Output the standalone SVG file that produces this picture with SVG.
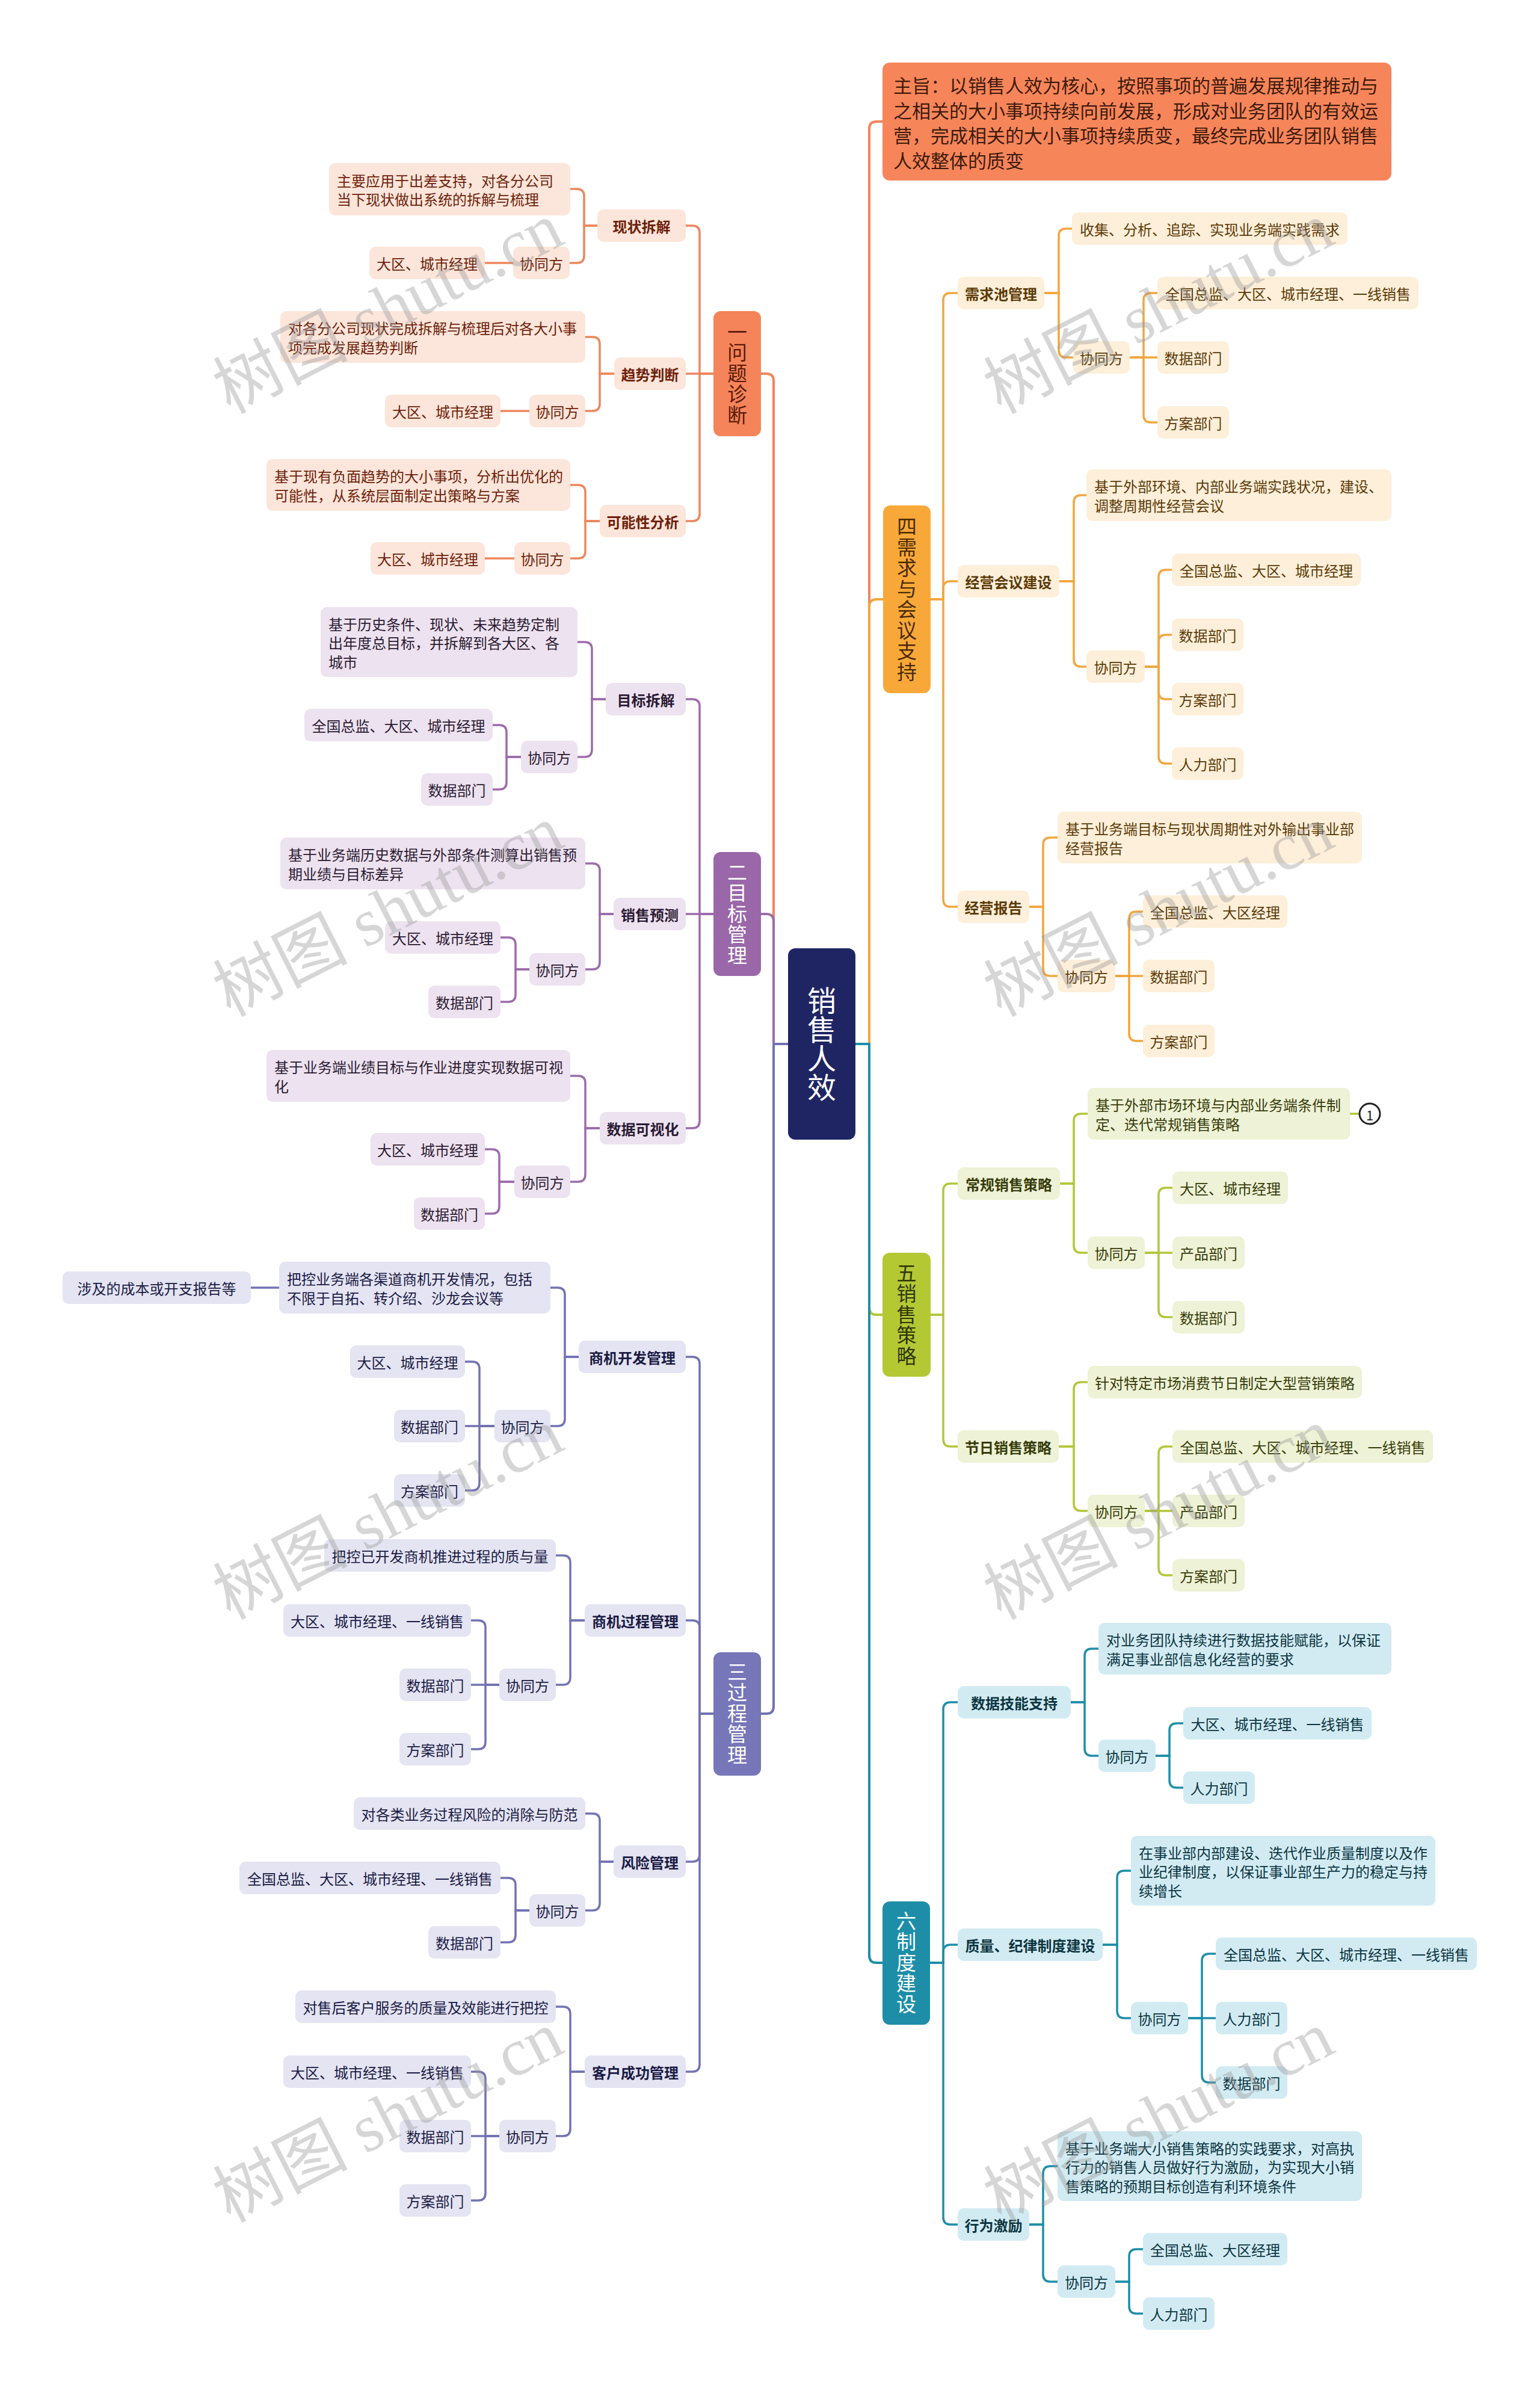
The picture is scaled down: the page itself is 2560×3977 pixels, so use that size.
<svg xmlns="http://www.w3.org/2000/svg" width="2560" height="3977" viewBox="0 0 2560 3977">
<style>
text{font-family:"Noto Sans CJK SC","Noto Sans",sans-serif;}
.s{font-size:24px;dominant-baseline:central}
.c{text-anchor:middle}
.b{font-size:24px;font-weight:bold;dominant-baseline:central;text-anchor:middle}
.m{font-size:33px;text-anchor:middle;writing-mode:vertical-rl;letter-spacing:1.5px}
.L1{fill:none;stroke-width:4}
.L{fill:none;stroke-width:3.5}
.e1{stroke:#EE865C}.e2{stroke:#9C6BAB}.e3{stroke:#7272B3}.e4{stroke:#F2A63D}.e5{stroke:#B3C63A}.e6{stroke:#1E8EA8}.e0{stroke:#F2845A}
.k1{fill:#FCE5DA}.k2{fill:#EDE2EF}.k3{fill:#E4E4F2}.k4{fill:#FDEFD9}.k5{fill:#EEF2D6}.k6{fill:#D2EBF3}
.t1{fill:#6E1F0B}.t2{fill:#2B1B33}.t3{fill:#1B1B45}.t4{fill:#5C3A08}.t5{fill:#363C0A}.t6{fill:#0C3540}
.wm{font-family:"Liberation Serif","Noto Sans CJK SC",serif;font-size:112px;fill:#9a9a9a;opacity:0.4;text-anchor:middle;dominant-baseline:central}
</style>
<rect x="0" y="0" width="2560" height="3977" fill="#ffffff"/>
<g id="connectors">
<path class="L1 e1" d="M1310 1735 H1286 V633 Q1286 621 1274 621 H1265"/>
<path class="L1 e2" d="M1310 1735 H1286 V1531 Q1286 1519 1274 1519 H1265"/>
<path class="L1 e3" d="M1310 1735 H1286 V2836 Q1286 2848 1274 2848 H1265"/>
<path class="L1 e0" d="M1422 1735 H1445 V214 Q1445 202 1457 202 H1467"/>
<path class="L1 e4" d="M1422 1735 H1445 V1008 Q1445 996 1457 996 H1468"/>
<path class="L1 e5" d="M1422 1735 H1445 V2173 Q1445 2185 1457 2185 H1467"/>
<path class="L1 e6" d="M1422 1735 H1445 V3250 Q1445 3262 1457 3262 H1467"/>
<g class="L e1">
<path d="M1186 621 H1163 V387 Q1163 375 1151 375 H1140"/>
<path d="M1186 621 H1140"/>
<path d="M1186 621 H1163 V854 Q1163 866 1151 866 H1140"/>
<path d="M993 375 H971 V326 Q971 314 959 314 H948"/>
<path d="M993 375 H971 V425 Q971 437 959 437 H947"/>
<path d="M853 437 H806"/>
<path d="M1021 621 H997 V572 Q997 560 985 560 H973"/>
<path d="M1021 621 H997 V671 Q997 683 985 683 H973"/>
<path d="M880 683 H832"/>
<path d="M997 866 H973 V818 Q973 806 961 806 H948"/>
<path d="M997 866 H973 V916 Q973 928 961 928 H948"/>
<path d="M855 928 H806"/>
</g>
<g class="L e2">
<path d="M1186 1519 H1163 V1174 Q1163 1162 1151 1162 H1140"/>
<path d="M1186 1519 H1140"/>
<path d="M1186 1519 H1163 V1863 Q1163 1875 1151 1875 H1140"/>
<path d="M1007 1162 H984 V1079 Q984 1067 972 1067 H960"/>
<path d="M1007 1162 H984 V1246 Q984 1258 972 1258 H960"/>
<path d="M866 1258 H842 V1217 Q842 1205 830 1205 H819"/>
<path d="M866 1258 H842 V1300 Q842 1312 830 1312 H819"/>
<path d="M1020 1519 H997 V1447 Q997 1435 985 1435 H973"/>
<path d="M1020 1519 H997 V1599 Q997 1611 985 1611 H973"/>
<path d="M880 1611 H857 V1570 Q857 1558 845 1558 H832"/>
<path d="M880 1611 H857 V1653 Q857 1665 845 1665 H832"/>
<path d="M997 1875 H973 V1800 Q973 1788 961 1788 H948"/>
<path d="M997 1875 H973 V1952 Q973 1964 961 1964 H948"/>
<path d="M855 1964 H830 V1922 Q830 1910 818 1910 H806"/>
<path d="M855 1964 H830 V2005 Q830 2017 818 2017 H806"/>
</g>
<g class="L e3">
<path d="M1186 2848 H1163 V2267 Q1163 2255 1151 2255 H1140"/>
<path d="M1186 2848 H1163 V2705 Q1163 2693 1151 2693 H1140"/>
<path d="M1186 2848 H1163 V3082 Q1163 3094 1151 3094 H1140"/>
<path d="M1186 2848 H1163 V3431 Q1163 3443 1151 3443 H1140"/>
<path d="M962 2255 H939 V2152 Q939 2140 927 2140 H915"/>
<path d="M962 2255 H939 V2358 Q939 2370 927 2370 H915"/>
<path d="M464 2140 H417"/>
<path d="M822 2370 H797 V2275 Q797 2263 785 2263 H773"/>
<path d="M822 2370 H773"/>
<path d="M822 2370 H797 V2465 Q797 2477 785 2477 H773"/>
<path d="M972 2693 H948 V2597 Q948 2585 936 2585 H924"/>
<path d="M972 2693 H948 V2788 Q948 2800 936 2800 H924"/>
<path d="M830 2800 H807 V2705 Q807 2693 795 2693 H783"/>
<path d="M830 2800 H783"/>
<path d="M830 2800 H807 V2895 Q807 2907 795 2907 H783"/>
<path d="M1020 3094 H997 V3026 Q997 3014 985 3014 H973"/>
<path d="M1020 3094 H997 V3163 Q997 3175 985 3175 H973"/>
<path d="M880 3175 H857 V3133 Q857 3121 845 3121 H832"/>
<path d="M880 3175 H857 V3216 Q857 3228 845 3228 H832"/>
<path d="M972 3443 H948 V3347 Q948 3335 936 3335 H924"/>
<path d="M972 3443 H948 V3538 Q948 3550 936 3550 H924"/>
<path d="M830 3550 H807 V3455 Q807 3443 795 3443 H783"/>
<path d="M830 3550 H783"/>
<path d="M830 3550 H807 V3645 Q807 3657 795 3657 H783"/>
</g>
<g class="L e4">
<path d="M1547 996 H1568 V499 Q1568 487 1580 487 H1592"/>
<path d="M1547 996 H1568 V978 Q1568 966 1580 966 H1592"/>
<path d="M1547 996 H1568 V1495 Q1568 1507 1580 1507 H1592"/>
<path d="M1736 487 H1760 V392 Q1760 380 1772 380 H1782"/>
<path d="M1736 487 H1760 V582 Q1760 594 1772 594 H1784"/>
<path d="M1878 594 H1901 V499 Q1901 487 1913 487 H1924"/>
<path d="M1878 594 H1924"/>
<path d="M1878 594 H1901 V690 Q1901 702 1913 702 H1924"/>
<path d="M1761 966 H1785 V835 Q1785 823 1797 823 H1806"/>
<path d="M1761 966 H1785 V1096 Q1785 1108 1797 1108 H1806"/>
<path d="M1903 1108 H1926 V959 Q1926 947 1938 947 H1948"/>
<path d="M1903 1108 H1926 V1067 Q1926 1055 1938 1055 H1948"/>
<path d="M1903 1108 H1926 V1150 Q1926 1162 1938 1162 H1948"/>
<path d="M1903 1108 H1926 V1257 Q1926 1269 1938 1269 H1948"/>
<path d="M1711 1507 H1734 V1404 Q1734 1392 1746 1392 H1758"/>
<path d="M1711 1507 H1734 V1610 Q1734 1622 1746 1622 H1758"/>
<path d="M1854 1622 H1877 V1527 Q1877 1515 1889 1515 H1900"/>
<path d="M1854 1622 H1900"/>
<path d="M1854 1622 H1877 V1718 Q1877 1730 1889 1730 H1900"/>
</g>
<g class="L e5">
<path d="M1547 2185 H1568 V1979 Q1568 1967 1580 1967 H1592"/>
<path d="M1547 2185 H1568 V2392 Q1568 2404 1580 2404 H1592"/>
<path d="M1762 1967 H1785 V1863 Q1785 1851 1797 1851 H1808"/>
<path d="M1762 1967 H1785 V2070 Q1785 2082 1797 2082 H1808"/>
<path d="M1903 2082 H1926 V1986 Q1926 1974 1938 1974 H1949"/>
<path d="M1903 2082 H1949"/>
<path d="M1903 2082 H1926 V2177 Q1926 2189 1938 2189 H1949"/>
<path d="M1760 2404 H1785 V2309 Q1785 2297 1797 2297 H1808"/>
<path d="M1760 2404 H1785 V2499 Q1785 2511 1797 2511 H1808"/>
<path d="M1903 2511 H1926 V2416 Q1926 2404 1938 2404 H1949"/>
<path d="M1903 2511 H1949"/>
<path d="M1903 2511 H1926 V2606 Q1926 2618 1938 2618 H1949"/>
<path d="M2244 1851 H2260"/>
</g>
<g class="L e6">
<path d="M1546 3262 H1568 V2841 Q1568 2829 1580 2829 H1592"/>
<path d="M1546 3262 H1568 V3244 Q1568 3232 1580 3232 H1592"/>
<path d="M1546 3262 H1568 V3685 Q1568 3697 1580 3697 H1592"/>
<path d="M1780 2829 H1803 V2752 Q1803 2740 1815 2740 H1826"/>
<path d="M1780 2829 H1803 V2906 Q1803 2918 1815 2918 H1826"/>
<path d="M1921 2918 H1944 V2876 Q1944 2864 1956 2864 H1967"/>
<path d="M1921 2918 H1944 V2959 Q1944 2971 1956 2971 H1967"/>
<path d="M1833 3232 H1857 V3121 Q1857 3109 1869 3109 H1880"/>
<path d="M1833 3232 H1857 V3342 Q1857 3354 1869 3354 H1880"/>
<path d="M1975 3354 H1998 V3259 Q1998 3247 2010 3247 H2021"/>
<path d="M1975 3354 H2021"/>
<path d="M1975 3354 H1998 V3449 Q1998 3461 2010 3461 H2021"/>
<path d="M1711 3697 H1734 V3612 Q1734 3600 1746 3600 H1758"/>
<path d="M1711 3697 H1734 V3780 Q1734 3792 1746 3792 H1758"/>
<path d="M1854 3792 H1877 V3750 Q1877 3738 1889 3738 H1900"/>
<path d="M1854 3792 H1877 V3833 Q1877 3845 1889 3845 H1900"/>
</g>
</g>

<g id="center">
<rect x="1310" y="1576" width="112" height="318" rx="12" fill="#1F2563"/>
<text x="1366" y="1735" style="font-size:48px;text-anchor:middle;writing-mode:vertical-rl" fill="#ffffff">销售人效</text>
</g>

<g id="summary">
<rect x="1467" y="104" width="846" height="196" rx="12" fill="#F7855A"/>
<text style="font-size:31px;dominant-baseline:central" fill="#3D1A0C"><tspan x="1485" y="140">主旨：以销售人效为核心，按照事项的普遍发展规律推动与</tspan><tspan x="1485" y="182">之相关的大小事项持续向前发展，形成对业务团队的有效运</tspan><tspan x="1485" y="223">营，完成相关的大小事项持续质变，最终完成业务团队销售</tspan><tspan x="1485" y="265">人效整体的质变</tspan></text>
</g>

<!-- Branch 1 -->
<g id="b1">
<rect x="1186" y="517" width="79" height="208" rx="12" fill="#F5845A"/>
<text class="m" x="1225.5" y="621" fill="#5A1A08">一问题诊断</text>
</g>
<g id="b1-1"><rect class="k1" x="993" y="348" width="147" height="54" rx="10"/><text class="b t1" x="1066.5" y="375">现状拆解</text></g>
<g id="b1-1-n"><rect class="k1" x="547" y="271" width="401" height="87" rx="10"/><text class="s t1"><tspan x="560" y="299">主要应用于出差支持，对各分公司</tspan><tspan x="560" y="330">当下现状做出系统的拆解与梳理</tspan></text></g>
<g id="b1-1-x"><rect class="k1" x="853" y="410" width="94" height="54" rx="10"/><text class="s c t1" x="900" y="437">协同方</text></g>
<g id="b1-1-x1"><rect class="k1" x="614" y="410" width="192" height="54" rx="10"/><text class="s c t1" x="710" y="437">大区、城市经理</text></g>
<g id="b1-2"><rect class="k1" x="1021" y="594" width="119" height="54" rx="10"/><text class="b t1" x="1080.5" y="621">趋势判断</text></g>
<g id="b1-2-n"><rect class="k1" x="466" y="517" width="507" height="86" rx="10"/><text class="s t1"><tspan x="479" y="544">对各分公司现状完成拆解与梳理后对各大小事</tspan><tspan x="479" y="576">项完成发展趋势判断</tspan></text></g>
<g id="b1-2-x"><rect class="k1" x="880" y="656" width="93" height="54" rx="10"/><text class="s c t1" x="926.5" y="683">协同方</text></g>
<g id="b1-2-x1"><rect class="k1" x="640" y="656" width="192" height="54" rx="10"/><text class="s c t1" x="736" y="683">大区、城市经理</text></g>
<g id="b1-3"><rect class="k1" x="997" y="839" width="143" height="54" rx="10"/><text class="b t1" x="1068.5" y="866">可能性分析</text></g>
<g id="b1-3-n"><rect class="k1" x="443" y="763" width="505" height="86" rx="10"/><text class="s t1"><tspan x="456" y="790">基于现有负面趋势的大小事项，分析出优化的</tspan><tspan x="456" y="822">可能性，从系统层面制定出策略与方案</tspan></text></g>
<g id="b1-3-x"><rect class="k1" x="855" y="901" width="93" height="54" rx="10"/><text class="s c t1" x="901.5" y="928">协同方</text></g>
<g id="b1-3-x1"><rect class="k1" x="616" y="901" width="190" height="54" rx="10"/><text class="s c t1" x="711" y="928">大区、城市经理</text></g>

<!-- Branch 2 -->
<g id="b2">
<rect x="1186" y="1416" width="79" height="206" rx="12" fill="#9A67A9"/>
<text class="m" x="1225.5" y="1519" fill="#ffffff">二目标管理</text>
</g>
<g id="b2-1"><rect class="k2" x="1007" y="1135" width="133" height="54" rx="10"/><text class="b t2" x="1073.5" y="1162">目标拆解</text></g>
<g id="b2-1-n"><rect class="k2" x="533" y="1009" width="427" height="116" rx="10"/><text class="s t2"><tspan x="546" y="1035.5">基于历史条件、现状、未来趋势定制</tspan><tspan x="546" y="1067">出年度总目标，并拆解到各大区、各</tspan><tspan x="546" y="1098.5">城市</tspan></text></g>
<g id="b2-1-x"><rect class="k2" x="866" y="1231" width="94" height="54" rx="10"/><text class="s c t2" x="913" y="1258">协同方</text></g>
<g id="b2-1-x1"><rect class="k2" x="506" y="1178" width="313" height="54" rx="10"/><text class="s c t2" x="662.5" y="1205">全国总监、大区、城市经理</text></g>
<g id="b2-1-x2"><rect class="k2" x="700" y="1285" width="119" height="54" rx="10"/><text class="s c t2" x="759.5" y="1312">数据部门</text></g>
<g id="b2-2"><rect class="k2" x="1020" y="1492" width="120" height="54" rx="10"/><text class="b t2" x="1080" y="1519">销售预测</text></g>
<g id="b2-2-n"><rect class="k2" x="466" y="1392" width="507" height="86" rx="10"/><text class="s t2"><tspan x="479" y="1419">基于业务端历史数据与外部条件测算出销售预</tspan><tspan x="479" y="1451">期业绩与目标差异</tspan></text></g>
<g id="b2-2-x"><rect class="k2" x="880" y="1584" width="93" height="54" rx="10"/><text class="s c t2" x="926.5" y="1611">协同方</text></g>
<g id="b2-2-x1"><rect class="k2" x="640" y="1531" width="192" height="54" rx="10"/><text class="s c t2" x="736" y="1558">大区、城市经理</text></g>
<g id="b2-2-x2"><rect class="k2" x="712" y="1638" width="120" height="54" rx="10"/><text class="s c t2" x="772" y="1665">数据部门</text></g>
<g id="b2-3"><rect class="k2" x="997" y="1848" width="143" height="54" rx="10"/><text class="b t2" x="1068.5" y="1875">数据可视化</text></g>
<g id="b2-3-n"><rect class="k2" x="443" y="1745" width="505" height="86" rx="10"/><text class="s t2"><tspan x="456" y="1772">基于业务端业绩目标与作业进度实现数据可视</tspan><tspan x="456" y="1804">化</tspan></text></g>
<g id="b2-3-x"><rect class="k2" x="855" y="1937" width="93" height="54" rx="10"/><text class="s c t2" x="901.5" y="1964">协同方</text></g>
<g id="b2-3-x1"><rect class="k2" x="616" y="1883" width="190" height="54" rx="10"/><text class="s c t2" x="711" y="1910">大区、城市经理</text></g>
<g id="b2-3-x2"><rect class="k2" x="688" y="1990" width="118" height="54" rx="10"/><text class="s c t2" x="747" y="2017">数据部门</text></g>

<!-- Branch 3 -->
<g id="b3">
<rect x="1186" y="2746" width="79" height="205" rx="12" fill="#7676B8"/>
<text class="m" x="1225.5" y="2848" fill="#ffffff">三过程管理</text>
</g>
<g id="b3-1"><rect class="k3" x="962" y="2228" width="178" height="54" rx="10"/><text class="b t3" x="1051" y="2255">商机开发管理</text></g>
<g id="b3-1-n"><rect class="k3" x="464" y="2097" width="451" height="86" rx="10"/><text class="s t3"><tspan x="477" y="2124">把控业务端各渠道商机开发情况，包括</tspan><tspan x="477" y="2156">不限于自拓、转介绍、沙龙会议等</tspan></text></g>
<g id="b3-1-n1"><rect class="k3" x="104" y="2113" width="313" height="54" rx="10"/><text class="s c t3" x="260.5" y="2140">涉及的成本或开支报告等</text></g>
<g id="b3-1-x"><rect class="k3" x="822" y="2343" width="93" height="54" rx="10"/><text class="s c t3" x="868.5" y="2370">协同方</text></g>
<g id="b3-1-x1"><rect class="k3" x="582" y="2236" width="191" height="54" rx="10"/><text class="s c t3" x="677.5" y="2263">大区、城市经理</text></g>
<g id="b3-1-x2"><rect class="k3" x="655" y="2343" width="118" height="54" rx="10"/><text class="s c t3" x="714" y="2370">数据部门</text></g>
<g id="b3-1-x3"><rect class="k3" x="655" y="2450" width="118" height="54" rx="10"/><text class="s c t3" x="714" y="2477">方案部门</text></g>
<g id="b3-2"><rect class="k3" x="972" y="2666" width="168" height="54" rx="10"/><text class="b t3" x="1056" y="2693">商机过程管理</text></g>
<g id="b3-2-n"><rect class="k3" x="539" y="2558" width="385" height="54" rx="10"/><text class="s c t3" x="731.5" y="2585">把控已开发商机推进过程的质与量</text></g>
<g id="b3-2-x"><rect class="k3" x="830" y="2773" width="94" height="54" rx="10"/><text class="s c t3" x="877" y="2800">协同方</text></g>
<g id="b3-2-x1"><rect class="k3" x="471" y="2666" width="312" height="54" rx="10"/><text class="s c t3" x="627" y="2693">大区、城市经理、一线销售</text></g>
<g id="b3-2-x2"><rect class="k3" x="664" y="2773" width="119" height="54" rx="10"/><text class="s c t3" x="723.5" y="2800">数据部门</text></g>
<g id="b3-2-x3"><rect class="k3" x="664" y="2880" width="119" height="54" rx="10"/><text class="s c t3" x="723.5" y="2907">方案部门</text></g>
<g id="b3-3"><rect class="k3" x="1020" y="3067" width="120" height="54" rx="10"/><text class="b t3" x="1080" y="3094">风险管理</text></g>
<g id="b3-3-n"><rect class="k3" x="588" y="2987" width="385" height="54" rx="10"/><text class="s c t3" x="780.5" y="3014">对各类业务过程风险的消除与防范</text></g>
<g id="b3-3-x"><rect class="k3" x="880" y="3148" width="93" height="54" rx="10"/><text class="s c t3" x="926.5" y="3175">协同方</text></g>
<g id="b3-3-x1"><rect class="k3" x="398" y="3094" width="434" height="54" rx="10"/><text class="s c t3" x="615" y="3121">全国总监、大区、城市经理、一线销售</text></g>
<g id="b3-3-x2"><rect class="k3" x="712" y="3201" width="120" height="54" rx="10"/><text class="s c t3" x="772" y="3228">数据部门</text></g>
<g id="b3-4"><rect class="k3" x="972" y="3416" width="168" height="54" rx="10"/><text class="b t3" x="1056" y="3443">客户成功管理</text></g>
<g id="b3-4-n"><rect class="k3" x="491" y="3308" width="433" height="54" rx="10"/><text class="s c t3" x="707.5" y="3335">对售后客户服务的质量及效能进行把控</text></g>
<g id="b3-4-x"><rect class="k3" x="830" y="3523" width="94" height="54" rx="10"/><text class="s c t3" x="877" y="3550">协同方</text></g>
<g id="b3-4-x1"><rect class="k3" x="471" y="3416" width="312" height="54" rx="10"/><text class="s c t3" x="627" y="3443">大区、城市经理、一线销售</text></g>
<g id="b3-4-x2"><rect class="k3" x="664" y="3523" width="119" height="54" rx="10"/><text class="s c t3" x="723.5" y="3550">数据部门</text></g>
<g id="b3-4-x3"><rect class="k3" x="664" y="3630" width="119" height="54" rx="10"/><text class="s c t3" x="723.5" y="3657">方案部门</text></g>

<!-- Branch 4 -->
<g id="b4">
<rect x="1468" y="840" width="79" height="312" rx="12" fill="#F8A838"/>
<text class="m" x="1507.5" y="996" fill="#4A2A05">四需求与会议支持</text>
</g>
<g id="b4-1"><rect class="k4" x="1592" y="460" width="144" height="54" rx="10"/><text class="b t4" x="1664" y="487">需求池管理</text></g>
<g id="b4-1-n"><rect class="k4" x="1782" y="353" width="458" height="54" rx="10"/><text class="s c t4" x="2011" y="380">收集、分析、追踪、实现业务端实践需求</text></g>
<g id="b4-1-x"><rect class="k4" x="1784" y="567" width="94" height="54" rx="10"/><text class="s c t4" x="1831" y="594">协同方</text></g>
<g id="b4-1-x1"><rect class="k4" x="1924" y="460" width="434" height="54" rx="10"/><text class="s c t4" x="2141" y="487">全国总监、大区、城市经理、一线销售</text></g>
<g id="b4-1-x2"><rect class="k4" x="1924" y="567" width="119" height="54" rx="10"/><text class="s c t4" x="1983.5" y="594">数据部门</text></g>
<g id="b4-1-x3"><rect class="k4" x="1924" y="675" width="119" height="54" rx="10"/><text class="s c t4" x="1983.5" y="702">方案部门</text></g>
<g id="b4-2"><rect class="k4" x="1592" y="939" width="169" height="54" rx="10"/><text class="b t4" x="1676.5" y="966">经营会议建设</text></g>
<g id="b4-2-n"><rect class="k4" x="1806" y="780" width="507" height="86" rx="10"/><text class="s t4"><tspan x="1819" y="807">基于外部环境、内部业务端实践状况，建设、</tspan><tspan x="1819" y="839">调整周期性经营会议</tspan></text></g>
<g id="b4-2-x"><rect class="k4" x="1806" y="1081" width="97" height="54" rx="10"/><text class="s c t4" x="1854.5" y="1108">协同方</text></g>
<g id="b4-2-x1"><rect class="k4" x="1948" y="920" width="314" height="54" rx="10"/><text class="s c t4" x="2105" y="947">全国总监、大区、城市经理</text></g>
<g id="b4-2-x2"><rect class="k4" x="1948" y="1028" width="119" height="54" rx="10"/><text class="s c t4" x="2007.5" y="1055">数据部门</text></g>
<g id="b4-2-x3"><rect class="k4" x="1948" y="1135" width="119" height="54" rx="10"/><text class="s c t4" x="2007.5" y="1162">方案部门</text></g>
<g id="b4-2-x4"><rect class="k4" x="1948" y="1242" width="119" height="54" rx="10"/><text class="s c t4" x="2007.5" y="1269">人力部门</text></g>
<g id="b4-3"><rect class="k4" x="1592" y="1480" width="119" height="54" rx="10"/><text class="b t4" x="1651.5" y="1507">经营报告</text></g>
<g id="b4-3-n"><rect class="k4" x="1758" y="1349" width="506" height="86" rx="10"/><text class="s t4"><tspan x="1771" y="1376">基于业务端目标与现状周期性对外输出事业部</tspan><tspan x="1771" y="1408">经营报告</tspan></text></g>
<g id="b4-3-x"><rect class="k4" x="1758" y="1595" width="96" height="54" rx="10"/><text class="s c t4" x="1806" y="1622">协同方</text></g>
<g id="b4-3-x1"><rect class="k4" x="1900" y="1488" width="240" height="54" rx="10"/><text class="s c t4" x="2020" y="1515">全国总监、大区经理</text></g>
<g id="b4-3-x2"><rect class="k4" x="1900" y="1595" width="119" height="54" rx="10"/><text class="s c t4" x="1959.5" y="1622">数据部门</text></g>
<g id="b4-3-x3"><rect class="k4" x="1900" y="1703" width="119" height="54" rx="10"/><text class="s c t4" x="1959.5" y="1730">方案部门</text></g>

<!-- Branch 5 -->
<g id="b5">
<rect x="1467" y="2082" width="80" height="206" rx="12" fill="#B4C834"/>
<text class="m" x="1507" y="2185" fill="#2E3506">五销售策略</text>
</g>
<g id="b5-1"><rect class="k5" x="1592" y="1940" width="170" height="54" rx="10"/><text class="b t5" x="1677" y="1967">常规销售策略</text></g>
<g id="b5-1-n"><rect class="k5" x="1808" y="1808" width="436" height="86" rx="10"/><text class="s t5"><tspan x="1821" y="1835">基于外部市场环境与内部业务端条件制</tspan><tspan x="1821" y="1867">定、迭代常规销售策略</tspan></text></g>
<g id="b5-1-mark"><circle cx="2277" cy="1851" r="17" fill="#ffffff" stroke="#222222" stroke-width="3"/><text x="2277" y="1852" style="font-size:22px;text-anchor:middle;dominant-baseline:central" fill="#222222">1</text></g>
<g id="b5-1-x"><rect class="k5" x="1808" y="2055" width="95" height="54" rx="10"/><text class="s c t5" x="1855.5" y="2082">协同方</text></g>
<g id="b5-1-x1"><rect class="k5" x="1949" y="1947" width="192" height="54" rx="10"/><text class="s c t5" x="2045" y="1974">大区、城市经理</text></g>
<g id="b5-1-x2"><rect class="k5" x="1949" y="2055" width="120" height="54" rx="10"/><text class="s c t5" x="2009" y="2082">产品部门</text></g>
<g id="b5-1-x3"><rect class="k5" x="1949" y="2162" width="120" height="54" rx="10"/><text class="s c t5" x="2009" y="2189">数据部门</text></g>
<g id="b5-2"><rect class="k5" x="1592" y="2377" width="168" height="54" rx="10"/><text class="b t5" x="1676" y="2404">节日销售策略</text></g>
<g id="b5-2-n"><rect class="k5" x="1808" y="2270" width="456" height="54" rx="10"/><text class="s c t5" x="2036" y="2297">针对特定市场消费节日制定大型营销策略</text></g>
<g id="b5-2-x"><rect class="k5" x="1808" y="2484" width="95" height="54" rx="10"/><text class="s c t5" x="1855.5" y="2511">协同方</text></g>
<g id="b5-2-x1"><rect class="k5" x="1949" y="2377" width="433" height="54" rx="10"/><text class="s c t5" x="2165.5" y="2404">全国总监、大区、城市经理、一线销售</text></g>
<g id="b5-2-x2"><rect class="k5" x="1949" y="2484" width="120" height="54" rx="10"/><text class="s c t5" x="2009" y="2511">产品部门</text></g>
<g id="b5-2-x3"><rect class="k5" x="1949" y="2591" width="120" height="54" rx="10"/><text class="s c t5" x="2009" y="2618">方案部门</text></g>

<!-- Branch 6 -->
<g id="b6">
<rect x="1467" y="3160" width="79" height="205" rx="12" fill="#1E8EA8"/>
<text class="m" x="1506.5" y="3262" fill="#ffffff">六制度建设</text>
</g>
<g id="b6-1"><rect class="k6" x="1592" y="2802" width="188" height="54" rx="10"/><text class="b t6" x="1686" y="2829">数据技能支持</text></g>
<g id="b6-1-n"><rect class="k6" x="1826" y="2697" width="487" height="86" rx="10"/><text class="s t6"><tspan x="1839" y="2724">对业务团队持续进行数据技能赋能，以保证</tspan><tspan x="1839" y="2756">满足事业部信息化经营的要求</tspan></text></g>
<g id="b6-1-x"><rect class="k6" x="1826" y="2891" width="95" height="54" rx="10"/><text class="s c t6" x="1873.5" y="2918">协同方</text></g>
<g id="b6-1-x1"><rect class="k6" x="1967" y="2837" width="313" height="54" rx="10"/><text class="s c t6" x="2123.5" y="2864">大区、城市经理、一线销售</text></g>
<g id="b6-1-x2"><rect class="k6" x="1967" y="2944" width="119" height="54" rx="10"/><text class="s c t6" x="2026.5" y="2971">人力部门</text></g>
<g id="b6-2"><rect class="k6" x="1592" y="3205" width="241" height="54" rx="10"/><text class="b t6" x="1712.5" y="3232">质量、纪律制度建设</text></g>
<g id="b6-2-n"><rect class="k6" x="1880" y="3051" width="506" height="116" rx="10"/><text class="s t6"><tspan x="1893" y="3077.5">在事业部内部建设、迭代作业质量制度以及作</tspan><tspan x="1893" y="3109">业纪律制度，以保证事业部生产力的稳定与持</tspan><tspan x="1893" y="3140.5">续增长</tspan></text></g>
<g id="b6-2-x"><rect class="k6" x="1880" y="3327" width="95" height="54" rx="10"/><text class="s c t6" x="1927.5" y="3354">协同方</text></g>
<g id="b6-2-x1"><rect class="k6" x="2021" y="3220" width="434" height="54" rx="10"/><text class="s c t6" x="2238" y="3247">全国总监、大区、城市经理、一线销售</text></g>
<g id="b6-2-x2"><rect class="k6" x="2021" y="3327" width="119" height="54" rx="10"/><text class="s c t6" x="2080.5" y="3354">人力部门</text></g>
<g id="b6-2-x3"><rect class="k6" x="2021" y="3434" width="119" height="54" rx="10"/><text class="s c t6" x="2080.5" y="3461">数据部门</text></g>
<g id="b6-3"><rect class="k6" x="1592" y="3670" width="119" height="54" rx="10"/><text class="b t6" x="1651.5" y="3697">行为激励</text></g>
<g id="b6-3-n"><rect class="k6" x="1758" y="3542" width="506" height="116" rx="10"/><text class="s t6"><tspan x="1771" y="3568.5">基于业务端大小销售策略的实践要求，对高执</tspan><tspan x="1771" y="3600">行力的销售人员做好行为激励，为实现大小销</tspan><tspan x="1771" y="3631.5">售策略的预期目标创造有利环境条件</tspan></text></g>
<g id="b6-3-x"><rect class="k6" x="1758" y="3765" width="96" height="54" rx="10"/><text class="s c t6" x="1806" y="3792">协同方</text></g>
<g id="b6-3-x1"><rect class="k6" x="1900" y="3711" width="240" height="54" rx="10"/><text class="s c t6" x="2020" y="3738">全国总监、大区经理</text></g>
<g id="b6-3-x2"><rect class="k6" x="1900" y="3818" width="119" height="54" rx="10"/><text class="s c t6" x="1959.5" y="3845">人力部门</text></g>

<g id="watermark">
<text class="wm" transform="translate(645 512) rotate(-27)">树图 shutu.cn</text>
<text class="wm" transform="translate(1926 512) rotate(-27)">树图 shutu.cn</text>
<text class="wm" transform="translate(645 1514) rotate(-27)">树图 shutu.cn</text>
<text class="wm" transform="translate(1926 1514) rotate(-27)">树图 shutu.cn</text>
<text class="wm" transform="translate(645 2516) rotate(-27)">树图 shutu.cn</text>
<text class="wm" transform="translate(1926 2516) rotate(-27)">树图 shutu.cn</text>
<text class="wm" transform="translate(645 3518) rotate(-27)">树图 shutu.cn</text>
<text class="wm" transform="translate(1926 3518) rotate(-27)">树图 shutu.cn</text>
</g>
</svg>
